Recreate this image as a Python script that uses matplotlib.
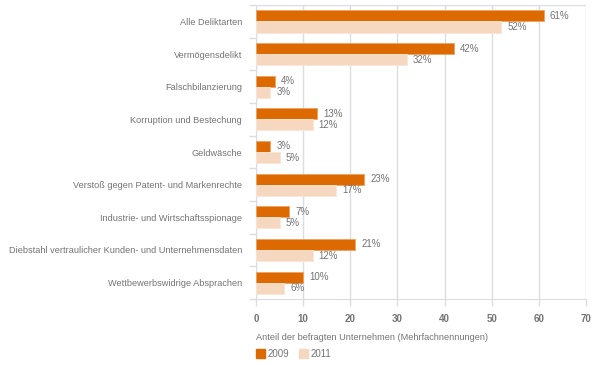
import numpy as np
import matplotlib.pyplot as plt

plt.rcParams['font.family'] = ['Liberation Sans', 'DejaVu Sans']

categories = ['Alle Deliktarten', 'Vermögensdelikt', 'Falschbilanzierung',
              'Korruption und Bestechung', 'Geldwäsche',
              'Verstoß gegen Patent- und Markenrechte',
              'Industrie- und Wirtschaftsspionage',
              'Diebstahl vertraulicher Kunden- und Unternehmensdaten',
              'Wettbewerbswidrige Absprachen']
values_2009 = [61, 42, 4, 13, 3, 23, 7, 21, 10]
values_2011 = [52, 32, 3, 12, 5, 17, 5, 12, 6]
years = ['2009', '2011']

c09 = '#DD6A00'
c11 = '#F6D7BF'
txt = '#737373'
grid = '#DCDCE4'
fs = 6.6

fig = plt.figure(figsize=(6, 3.65), dpi=100)
ax = fig.add_axes([0.4267, 0.181, 0.55, 0.805])

n = len(categories)
y = np.arange(n)
h = 0.34
ax.barh(y - h / 2, values_2009, height=h, color=c09, edgecolor='#F0A060', linewidth=0.6, zorder=3)
ax.barh(y + h / 2, values_2011, height=h, color=c11, edgecolor='#F9E6D8', linewidth=0.6, zorder=3)

for i in range(n):
    ax.text(values_2009[i] + 1.3, y[i] - h / 2, f'{values_2009[i]}%', va='center', ha='left',
            fontsize=fs + 0.4, color=txt)
    ax.text(values_2011[i] + 1.3, y[i] + h / 2, f'{values_2011[i]}%', va='center', ha='left',
            fontsize=fs + 0.4, color=txt)

ax.set_xlim(0, 70)
ax.set_ylim(n - 0.5, -0.5)
ax.set_xticks(np.arange(0, 71, 10))
ax.set_xticklabels([str(v) for v in range(0, 71, 10)], fontsize=fs + 0.4, color=txt, fontweight='bold')
ax.set_yticks(y)
ax.set_yticklabels(categories, fontsize=fs, color=txt)
ax.tick_params(axis='y', length=0, pad=10)
ax.set_yticks(np.arange(-0.5, n, 1), minor=True)
ax.tick_params(axis='y', which='minor', length=5, color=grid, width=1)
ax.tick_params(axis='x', length=5, color=grid, width=1, pad=6)
ax.grid(axis='x', color=grid, linewidth=1, zorder=0)
for s in ['top', 'right']:
    ax.spines[s].set_visible(False)
ax.spines['left'].set_color(grid)
ax.spines['bottom'].set_color(grid)
ax.axhline(-0.5, color=grid, linewidth=1, zorder=1)

fig.text(0.4267, 0.074, 'Anteil der befragten Unternehmen (Mehrfachnennungen)',
         fontsize=fs, color=txt, ha='left', va='center')
fig.patches.append(plt.Rectangle((0.4267, 0.019), 0.015, 0.024, transform=fig.transFigure,
                                 color=c09, figure=fig))
fig.text(0.4467, 0.031, years[0], fontsize=fs + 0.4, color=txt, ha='left', va='center')
fig.patches.append(plt.Rectangle((0.4983, 0.019), 0.015, 0.024, transform=fig.transFigure,
                                 color=c11, figure=fig))
fig.text(0.5183, 0.031, years[1], fontsize=fs + 0.4, color=txt, ha='left', va='center')

fig.savefig('out.png', dpi=100, facecolor='white')
